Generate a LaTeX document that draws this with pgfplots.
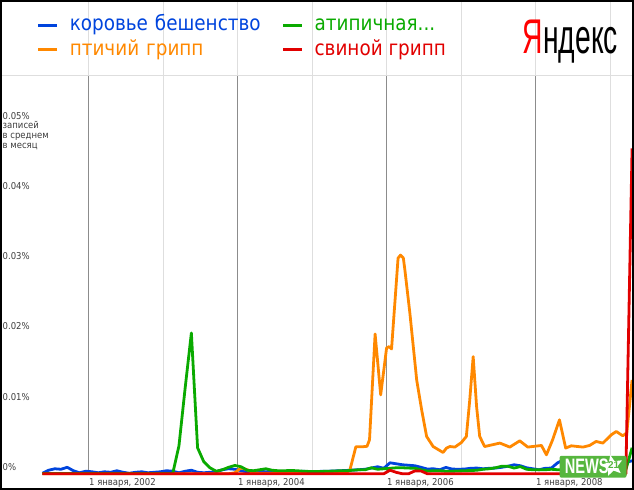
\documentclass[border=0pt]{standalone}
\usepackage{fontspec}
\usepackage{pgfplots}
\pgfplotsset{compat=1.18}
\usetikzlibrary{shapes.geometric}

\setmainfont{DejaVu Sans}[FakeStretch=0.9]
\newfontfamily\legendfont{DejaVu Sans}[FakeStretch=0.88]
\newfontfamily\logofont{Liberation Sans}

\definecolor{cowblue}{RGB}{0,68,221}
\definecolor{birdorange}{RGB}{255,136,0}
\definecolor{sarsgreen}{RGB}{10,170,0}
\definecolor{swinered}{RGB}{225,0,0}
\definecolor{griddark}{RGB}{140,140,140}
\definecolor{gridlight}{RGB}{222,222,222}
\definecolor{labelgray}{RGB}{60,60,60}
\definecolor{newsgreen}{RGB}{86,182,62}

\begin{document}
\begin{tikzpicture}
\begin{axis}[
  width=634bp, height=415bp, scale only axis,
  xmin=-2.75, xmax=99.23,
  ymin=-0.002276, ymax=0.056757,
  axis line style={draw=none},
  clip=false,
  major tick length=0pt,
  scaled y ticks=false,
  xtick={11.5,35.5,59.5,83.5},
  xticklabels={{1 января, 2002},{1 января, 2004},{1 января, 2006},{1 января, 2008}},
  ytick={0,0.01,0.02,0.03,0.04,0.05},
  yticklabels={0\%,0.01\%,0.02\%,0.03\%,0.04\%,0.05\%},
  xticklabel style={anchor=base west, inner sep=0pt, yshift=4bp,
    font=\fontsize{9.5}{9.5}\selectfont, text=labelgray},
  yticklabel style={anchor=base west, inner sep=0pt, xshift=2bp, yshift=3.5bp,
    font=\fontsize{9.5}{9.5}\selectfont, text=labelgray},
  every axis plot/.append style={line width=2.8bp, line join=round},
  legend columns=2, transpose legend,
  legend image code/.code={\draw[#1,line width=3.2bp] (0bp,0bp) -- (19bp,0bp);},
  legend style={at={(rel axis cs:0,1)}, anchor=south west, xshift=36bp, yshift=17bp,
    draw=none, fill=none, inner sep=0pt, column sep=11bp, row sep=7.5bp,
    font=\fontsize{21}{21}\legendfont,
    nodes={inner sep=0pt, text height=14bp, text depth=3bp},
    /tikz/column 2/.style={text width=201bp}},
  legend cell align=left,
]
% year lines
\draw[gridlight, line width=1bp] (axis cs:23.5,0) -- (axis cs:23.5,0.056757);
\draw[gridlight, line width=1bp] (axis cs:47.5,0) -- (axis cs:47.5,0.056757);
\draw[gridlight, line width=1bp] (axis cs:71.5,0) -- (axis cs:71.5,0.056757);
\draw[gridlight, line width=1bp] (axis cs:95.5,0) -- (axis cs:95.5,0.056757);
\draw[griddark, line width=1bp] (axis cs:11.5,0) -- (axis cs:11.5,0.056757);
\draw[griddark, line width=1bp] (axis cs:35.5,0) -- (axis cs:35.5,0.056757);
\draw[griddark, line width=1bp] (axis cs:59.5,0) -- (axis cs:59.5,0.056757);
\draw[griddark, line width=1bp] (axis cs:83.5,0) -- (axis cs:83.5,0.056757);
\draw[gridlight, line width=1bp] (axis cs:11.5,0.056757) -- ([yshift=75bp]axis cs:11.5,0.056757);
\draw[gridlight, line width=1bp] (axis cs:23.5,0.056757) -- ([yshift=75bp]axis cs:23.5,0.056757);
\draw[gridlight, line width=1bp] (axis cs:35.5,0.056757) -- ([yshift=75bp]axis cs:35.5,0.056757);
\draw[gridlight, line width=1bp] (axis cs:47.5,0.056757) -- ([yshift=75bp]axis cs:47.5,0.056757);
\draw[gridlight, line width=1bp] (axis cs:59.5,0.056757) -- ([yshift=75bp]axis cs:59.5,0.056757);
\draw[gridlight, line width=1bp] (axis cs:71.5,0.056757) -- ([yshift=75bp]axis cs:71.5,0.056757);
\draw[gridlight, line width=1bp] (axis cs:83.5,0.056757) -- ([yshift=75bp]axis cs:83.5,0.056757);
\draw[gridlight, line width=1bp] (axis cs:95.5,0.056757) -- ([yshift=75bp]axis cs:95.5,0.056757);
\draw[gridlight, line width=1bp] (rel axis cs:0,1) -- (rel axis cs:1,1);

% коровье бешенство
\addplot[cowblue] table {
4 0.00007
5 0.0005
6 0.00071
7 0.00064
8 0.00092
9 0.00043
10 0.00014
11 0.00036
12 0.00028
13 0.00014
14 0.00028
15 0.00021
16 0.00043
17 0.00021
18 0.00007
19 0.00021
20 0.00028
21 0.00014
22 0.00021
23 0.00028
24 0.00043
25 0.00036
26 0.00014
27 0.00036
28 0.0005
29 0.00021
30 0.00014
31 0.00021
32 0.00028
33 0.00057
34 0.00071
35 0.00064
36 0.00043
37 0.00028
38 0.00036
39 0.00036
40 0.00028
41 0.00036
42 0.00021
43 0.00028
44 0.00021
45 0.00028
46 0.00036
47 0.00028
48 0.00028
49 0.00036
50 0.00036
51 0.0004
52 0.00043
53 0.00047
54 0.00053
55 0.00057
56 0.00064
57 0.00081
58 0.001
59 0.00078
60 0.00156
61 0.00142
62 0.00128
63 0.00121
64 0.00114
65 0.00092
66 0.00067
67 0.00071
68 0.00057
69 0.0009
70 0.00067
71 0.00064
72 0.00067
73 0.00078
74 0.00081
75 0.00071
76 0.00078
77 0.00081
78 0.00092
79 0.00107
80 0.00128
81 0.00114
82 0.00085
83 0.00071
84 0.00057
85 0.00078
86 0.00081
87 0.00156
88 0.00199
89 0.00213
90 0.00223
91 0.00228
92 0.00213
93 0.00199
94 0.00185
95 0.00171
96 0.00164
97 0.00164
98 0.00161
99 0.00185
};
\addlegendentry[text=cowblue]{коровье бешенство}

% птичий грипп
\addplot[birdorange] table {
4 0
34 0
35 0.00014
36 0.00085
37 0.00057
38 0.00014
39 0.00007
53 0.00014
53.55 0.00057
54.5 0.00384
55.5 0.00384
56.3 0.00391
56.7 0.00484
57.6 0.01991
58.5 0.01124
59.45 0.01792
59.85 0.01811
60.25 0.01778
61.3 0.03073
61.7 0.03115
62.15 0.03073
62.4 0.02902
63.2 0.0229
64.3 0.01337
65.1 0.0091
65.9 0.00531
66.95 0.00388
68.55 0.00303
69.1 0.00366
69.65 0.00388
70.45 0.0038
71.5 0.00445
72.3 0.00531
72.85 0.01053
73.4 0.01669
73.95 0.00957
74.45 0.00531
75.25 0.00388
77.7 0.00437
79.3 0.0038
80.9 0.00469
82.2 0.0038
84.4 0.00403
85.2 0.0027
86.2 0.00484
87.3 0.00768
88.3 0.00366
89.2 0.00398
91.1 0.0038
92.15 0.00403
93.2 0.0046
94.3 0.00437
95.65 0.00555
96.45 0.00602
97.5 0.00541
98.15 0.00583
99 0.01337
};
\addlegendentry[text=birdorange]{птичий грипп}

% атипичная пневмония
\addplot[sarsgreen] table {
4 0.00004
25 0.00004
26 0.00398
27 0.01223
28 0.02006
29 0.0037
30 0.00171
31 0.00085
32 0.00036
33 0.00057
34 0.00092
35 0.00118
36 0.001
37 0.0005
38 0.00043
39 0.00057
40 0.00071
41 0.0005
42 0.00043
43 0.00043
44 0.00047
45 0.00043
46 0.00036
47 0.00033
48 0.00033
49 0.00033
50 0.00036
51 0.00038
52 0.00043
53 0.00043
54 0.0005
55 0.00057
56 0.00057
57 0.00085
58 0.00064
59 0.00071
60 0.00078
61 0.00085
62 0.00085
63 0.00081
64 0.00078
65 0.00057
66 0.00038
67 0.00043
68 0.00043
69 0.00036
70 0.00036
71 0.0004
72 0.00043
73 0.00046
74 0.0005
75 0.00064
76 0.00071
77 0.00085
78 0.00107
79 0.00107
80 0.00081
81 0.00102
82 0.00064
83 0.00057
84 0.00057
85 0.00057
86 0.00064
87 0.00057
98 0.00057
99 0.0037
};
\addlegendentry[text=sarsgreen]{атипичная...}

% свиной грипп
\addplot[swinered] table {
4 0
59 0
60 0.0005
61 0.0002
62 0
63 0
64 0.0004
65 0.0004
66 0
98 0
99 0.04637
};
\addlegendentry[text=swinered]{свиной грипп}

% y label
\node[anchor=north west, align=left, inner sep=0pt, text=labelgray,
  font=\fontsize{9.5}{10}\selectfont] at ([xshift=2bp,yshift=-46bp]rel axis cs:0,1)
  {записей\\в среднем\\в месяц};

% Yandex logo
\node[anchor=base west, inner sep=0pt] at ([xshift=523bp,yshift=22bp]rel axis cs:0,1)
  {\scalebox{0.58}[1]{\fontsize{49}{49}\logofont\textcolor{red}{Я}ндекс}};

% NEWS21 watermark
\fill[newsgreen, rounded corners=2bp] ([xshift=560bp,yshift=12bp]rel axis cs:0,0)
  rectangle ([xshift=627bp,yshift=34bp]rel axis cs:0,0);
\node[anchor=base west, inner sep=0pt, text=white] at ([xshift=565bp,yshift=16bp]rel axis cs:0,0)
  {\scalebox{0.7}[1]{\fontsize{21}{21}\logofont\bfseries NEWS}};
\node[star, star points=5, star point ratio=2.2, fill=white, inner sep=0pt,
  minimum size=22bp, rotate=12] at ([xshift=613bp,yshift=24bp]rel axis cs:0,0) {};
\node[inner sep=0pt, text=newsgreen] at ([xshift=614bp,yshift=25bp]rel axis cs:0,0)
  {\fontsize{10}{10}\logofont\bfseries 21};
\end{axis}
% frame round the whole chart
\draw[black, line width=1.5bp] ([shift={(0.75bp,0.75bp)}]current axis.south west)
  rectangle ([shift={(-0.75bp,74.25bp)}]current axis.north east);
\end{tikzpicture}
\end{document}
